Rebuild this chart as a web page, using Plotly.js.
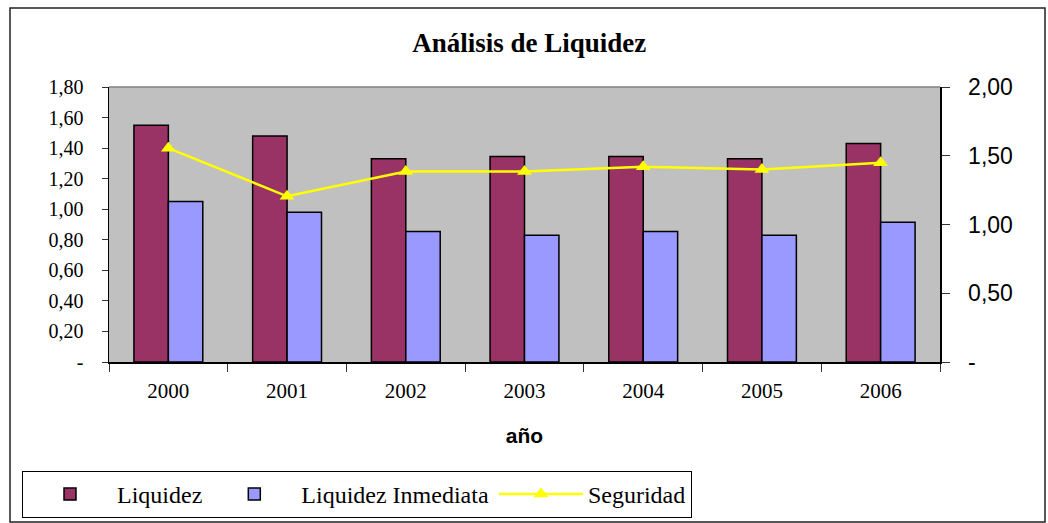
<!DOCTYPE html>
<html>
<head>
<meta charset="utf-8">
<script src="https://cdn.plot.ly/plotly-3.0.1.min.js"></script>
<style>html,body{margin:0;padding:0;background:#fff;}#chart{width:1048px;height:523px;}</style>
</head>
<body>
<div id="chart"></div>
<script>
const years = ["2000", "2001", "2002", "2003", "2004", "2005", "2006"];
const liquidez = [1.55, 1.48, 1.33, 1.345, 1.345, 1.33, 1.43];
const liquidezInmediata = [1.05, 0.98, 0.855, 0.83, 0.855, 0.83, 0.915];
const seguridad = [1.555, 1.205, 1.385, 1.385, 1.42, 1.40, 1.45];
const leftTicks = [0, 0.2, 0.4, 0.6, 0.8, 1.0, 1.2, 1.4, 1.6, 1.8];
const leftTickText = ["-", "0,20", "0,40", "0,60", "0,80", "1,00", "1,20", "1,40", "1,60", "1,80"];
const rightTicks = [0, 0.5, 1.0, 1.5, 2.0];
const rightTickText = ["-", "0,50", "1,00", "1,50", "2,00"];

const serif = "Liberation Serif";
const sans = "Liberation Sans";

const traces = [
  {type: "bar", name: "Liquidez", x: years, y: liquidez,
   marker: {color: "#993366", line: {color: "#000", width: 1.5}}},
  {type: "bar", name: "Liquidez Inmediata", x: years, y: liquidezInmediata,
   marker: {color: "#9999FF", line: {color: "#000", width: 1.5}}},
  {type: "scatter", mode: "lines+markers", name: "Seguridad", x: years, y: seguridad, yaxis: "y2",
   line: {color: "#FFFF00", width: 2.5},
   marker: {symbol: "triangle-up", size: 13, color: "#FFFF00"}}
];

// plot area in px: left 109, right 940, top 87, bottom 362
const L = 109, R = 940, T = 87, B = 362, W = 1048, H = 523;
const px = v => (v - L) / (R - L);
const py = v => (B - v) / (B - T);

const layout = {
  width: W, height: H,
  margin: {l: L, r: W - R, t: T, b: H - B, pad: 0},
  paper_bgcolor: "#fff",
  plot_bgcolor: "#C0C0C0",
  showlegend: true,
  barmode: "group",
  bargap: 0.42,
  bargroupgap: 0,
  title: {text: "Análisis de Liquidez", font: {family: serif, size: 27, color: "#000", weight: "bold"},
          x: 0.505, xanchor: "center", y: 1 - 43 / H, yanchor: "middle"},
  xaxis: {
    type: "category",
    showgrid: false, zeroline: false,
    showline: true, linecolor: "#000", linewidth: 1.5,
    ticks: "outside", ticklen: 8, tickcolor: "#333", tickson: "boundaries",
    tickfont: {family: serif, size: 21, color: "#000"},
    ticklabelstandoff: 9,
    title: {text: "año", font: {family: sans, size: 21, color: "#000", weight: "bold"}, standoff: 26}
  },
  yaxis: {
    range: [0, 1.8],
    tickvals: leftTicks, ticktext: leftTickText,
    showgrid: false, zeroline: false,
    showline: true, linecolor: "#000", linewidth: 1.5,
    ticks: "outside", ticklen: 6, tickcolor: "#333",
    tickfont: {family: serif, size: 20, color: "#000"},
    ticklabelstandoff: 14
  },
  yaxis2: {
    overlaying: "y", side: "right",
    range: [0, 2.0],
    tickvals: rightTicks, ticktext: rightTickText,
    showgrid: false, zeroline: false,
    showline: true, linecolor: "#000", linewidth: 1.5,
    ticks: "outside", ticklen: 8, tickcolor: "#333",
    tickfont: {family: sans, size: 23, color: "#000"},
    ticklabelstandoff: 14
  },
  legend: {
    orientation: "h",
    xref: "container", yref: "container",
    x: 22 / W, xanchor: "left",
    y: 1 - 471 / H, yanchor: "top",
    bgcolor: "#fff", bordercolor: "#000", borderwidth: 1,
    font: {family: serif, size: 24, color: "#000"},
    itemwidth: 84, traceorder: "normal"
  },
  shapes: [
    {type: "rect", xref: "paper", yref: "paper",
     x0: px(10), x1: px(1045), y0: py(522), y1: py(8),
     line: {color: "#222", width: 1.5}, fillcolor: "rgba(0,0,0,0)", layer: "below"},
    {type: "line", xref: "paper", yref: "paper", x0: 0, x1: 1, y0: 1, y1: 1,
     line: {color: "#808080", width: 1.5}}
  ]
};

Plotly.newPlot("chart", traces, layout, {staticPlot: true, displayModeBar: false});
</script>
</body>
</html>
